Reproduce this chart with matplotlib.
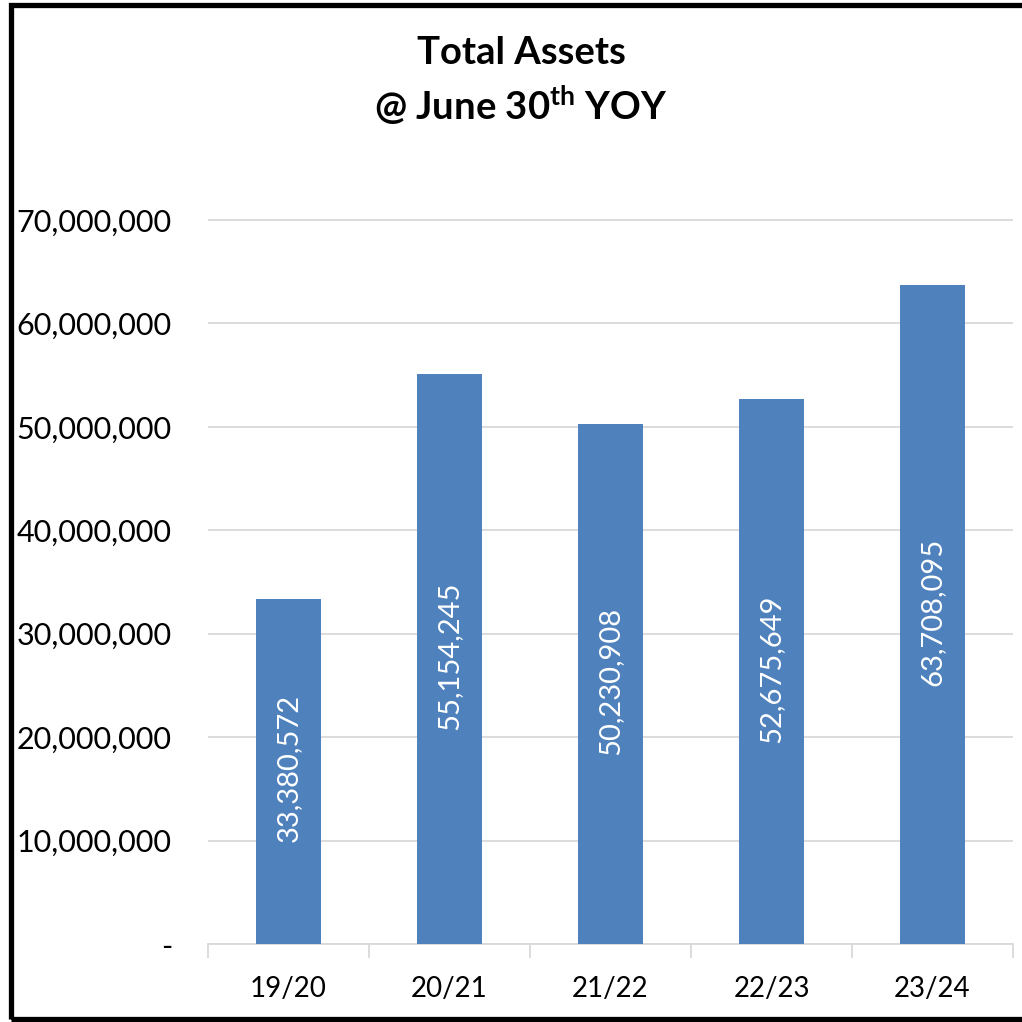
import matplotlib
matplotlib.use("Agg")
import matplotlib.pyplot as plt
from matplotlib.patches import Rectangle
from matplotlib.ticker import FuncFormatter, FixedLocator

plt.rcParams['font.family'] = ['Lato', 'DejaVu Sans']
plt.rcParams['mathtext.fontset'] = 'custom'
plt.rcParams['mathtext.rm'] = 'Lato'
plt.rcParams['mathtext.bf'] = 'Lato:bold'

categories = ["19/20", "20/21", "21/22", "22/23", "23/24"]
values = [33380572, 55154245, 50230908, 52675649, 63708095]
yticks = [0, 10000000, 20000000, 30000000, 40000000, 50000000, 60000000, 70000000]

W = H = 1022
fig = plt.figure(figsize=(W/100, H/100), dpi=100)
ax = fig.add_axes([208/W, 1-944/H, (1013-208)/W, (944-209.6)/H])

x = list(range(len(categories)))
bars = ax.bar(x, values, width=0.4, color="#4F81BD", zorder=3)
for xi, v in zip(x, values):
    ax.text(xi, v/2 + 300000, f"{v:,}", rotation=90, ha="center", va="center",
            color="white", fontsize=21, zorder=4)

ax.set_xlim(-0.5, len(categories)-0.5)
ax.set_ylim(0, 71000000)
ax.set_yticks(yticks)
ax.yaxis.set_major_formatter(FuncFormatter(lambda v, p: "-" if v == 0 else f"{int(v):,}"))
ax.grid(axis="y", color="#D9D9D9", linewidth=1.3, zorder=0)
ax.set_xticks(x)
ax.set_xticklabels(categories)
ax.xaxis.set_minor_locator(FixedLocator([i-0.5 for i in range(len(categories)+1)]))
ax.tick_params(axis="x", which="major", length=0, pad=23, labelsize=20)
ax.tick_params(axis="x", which="minor", length=10, color="#D9D9D9", width=1.3)
ax.tick_params(axis="y", length=0, pad=26, labelsize=22)
for s in ["top", "right", "left"]:
    ax.spines[s].set_visible(False)
ax.spines["bottom"].set_color("#D9D9D9")
ax.spines["bottom"].set_linewidth(1.3)

fig.text(521/W, 1-53/H, "Total Assets", ha="center", va="center",
         fontsize=27.5, fontweight="bold")
fig.text(521/W, 1-106/H, r"@ June 30$^{\mathbf{th}}$ YOY", ha="center", va="center",
         fontsize=27.5, fontweight="bold")

fig.add_artist(Rectangle((10.5/W, 1-1018.5/H), 1.2, (1018.5-5.5)/H,
                         transform=fig.transFigure, fill=False,
                         edgecolor="black", linewidth=3.8, clip_on=False))

fig.savefig("out.png", dpi=100)
